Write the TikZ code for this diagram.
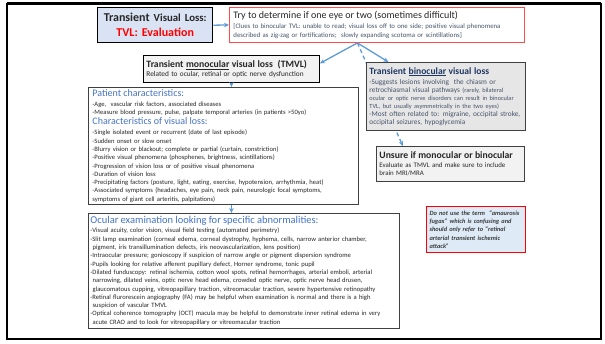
\documentclass[tikz,border=0pt]{standalone}
\usepackage{fontspec}
\setmainfont{Carlito}
\usetikzlibrary{arrows.meta, positioning, calc}
\definecolor{arrblue}{HTML}{5B9BD5}
\definecolor{titlefill}{HTML}{DAE3F3}
\definecolor{notefill}{HTML}{DEEBF7}
\definecolor{boxgray}{HTML}{F2F2F2}
\definecolor{binogray}{HTML}{E7E6E6}
\definecolor{headblue}{HTML}{4472C4}
\definecolor{slate}{HTML}{44546A}
\definecolor{navy}{HTML}{1F3864}
\definecolor{alertred}{HTML}{FF0000}
\definecolor{edgered}{HTML}{FF4B4B}
\definecolor{edgegray}{HTML}{404040}
\definecolor{bodytext}{HTML}{262626}
\definecolor{notegray}{HTML}{3A3A3A}

\newcommand{\fsz}[2]{\fontsize{#1}{#2}\selectfont}
\newcommand{\boxhead}[1]{{\fsz{10}{12}\color{headblue}#1}}

\begin{document}
\begin{tikzpicture}[
  x=1pt, y=-1pt,
  >={Stealth[length=5pt, width=4.5pt]},
  panel/.style={
    draw=edgegray, line width=0.9pt, anchor=north west, align=left,
    inner xsep=4pt, inner ysep=1pt, text=bodytext,
    font=\fsz{6.6}{8.3}
  },
  arr/.style={->, line width=1.3pt, arrblue},
]

\useasboundingbox (0,0) rectangle (605,343);

% Slide frame
\draw[line width=1.4pt] (7,4) rectangle (601,339);
\draw[line width=3pt] (7,3) -- (601,3);

% =============================================
% Top row: title and first question
% =============================================
\node[panel, fill=titlefill, draw=black, line width=1.4pt, align=center,
      minimum width=115pt, minimum height=35pt, text width=111pt, inner xsep=2pt,
      font=\fsz{12}{15}] (title) at (97,7)
  {{\bfseries Transient} {\fsz{10.8}{15}\bfseries Visual Loss:}\\
   {\bfseries\color{alertred}TVL: Evaluation}};

\node[panel, draw=edgered, minimum width=295pt, minimum height=35pt,
      text width=287pt, font=\fsz{6.8}{8.3}] (clues) at (229,7)
  {{\fsz{10}{10}Try to determine if one eye or two (sometimes difficult)}\\[1.5pt]
   {\color{slate}[Clues to binocular TVL: unable to read; visual loss\ off to one side;\ positive visual phenomena}\\
   {\color{slate}described as zig-zag or fortifications;\ \ slowly expanding scotoma or scintillations]}};

\draw[arr] (title.east) -- (clues.west);

\coordinate (split) at ($(clues.south west)!0.434!(clues.south east)$);

% =============================================
% Monocular / unsure branches
% =============================================
\node[panel, fill=boxgray, draw=black, minimum width=176pt, minimum height=27pt,
      text width=170pt, inner xsep=3pt, font=\fsz{7.3}{8.5}] (tmvl) at (143,55)
  {{\fsz{9.7}{10}\bfseries Transient \underline{monocular} visual loss\ \ (TMVL)}\\[0.5pt]
   Related to ocular, retinal or optic nerve dysfunction};

\node[panel, fill=boxgray, draw=edgegray, minimum width=148pt, minimum height=35pt,
      text width=142pt, inner xsep=3pt, font=\fsz{6.9}{8.3}] (unsure) at (376,146)
  {{\fsz{9.7}{10}\bfseries Unsure if monocular or binocular}\\[0.5pt]
   Evaluate as TMVL and make sure to include\\
   brain MRI/MRA};

\draw[arr] (split) -- ($(tmvl.north east)!0.3!(tmvl.south east)$);
\draw[arr, dashed, dash pattern=on 4pt off 3pt]
  (split) -- ($(unsure.north west)!0.18!(unsure.north east)$);

% =============================================
% Binocular branch (covers the dashed line)
% =============================================
\node[panel, fill=binogray, draw=edgegray, minimum width=159pt, minimum height=68pt,
      text width=153pt, inner xsep=3pt, text=slate, font=\fsz{7.3}{8}] (bino) at (366,62)
  {{\fsz{9.6}{10}\bfseries\color{navy}Transient \underline{binocular} visual loss}\\[2pt]
   -Suggests lesions involving\ \ the chiasm or\\
   retrochiasmal visual pathways {\fsz{6.3}{7}(rarely, bilateral}\\
   {\fsz{6.3}{7}ocular or optic nerve disorders can result in binocular}\\
   {\fsz{6.3}{7}TVL, but usually asymmetrically in the two eyes)}\\
   -Most often related to: migraine, occipital stroke,\\
   occipital seizures, hypoglycemia};

\draw[arr] (split) -- ($(bino.north west)!0.14!(bino.north east)$);

% =============================================
% History and examination
% =============================================
\node[panel, minimum width=270pt, minimum height=117pt, text width=262pt] (patient) at (88,87)
  {\boxhead{Patient characteristics:}\\[1.7pt]
   -Age,\ \ vascular risk factors, associated diseases\\
   -Measure blood pressure, pulse, palpate temporal arteries (in patients >50yo)\\[1.7pt]
   \boxhead{Characteristics of visual loss:}\\[1.7pt]
   -Single isolated event or recurrent (date of last episode)\\
   -Sudden onset or slow onset\\
   -Blurry vision or blackout; complete or partial (curtain, constriction)\\
   -Positive visual phenomena (phosphenes, brightness, scintillations)\\
   -Progression of vision loss or of positive visual phenomena\\
   -Duration of vision loss\\
   -Precipitating factors (posture, light, eating, exercise, hypotension, arrhythmia, heat)\\
   -Associated symptoms (headaches, eye pain, neck pain, neurologic focal symptoms,\\
   symptoms of giant cell arteritis, palpitations)};

\draw[arr] (tmvl.south) -- (tmvl.south |- patient.north);

\node[panel, minimum width=311pt, minimum height=115pt, text width=307pt,
      inner xsep=2pt] (ocular) at (88,213)
  {{\fsz{10.5}{11}\color{headblue}Ocular examination looking for specific abnormalities:}\\[0.7pt]
   -Visual acuity, color vision, visual field testing (automated perimetry)\\
   -Slit lamp examination (corneal edema, corneal dystrophy, hyphema, cells, narrow anterior chamber,\\
   \ pigment, iris transillumination defects, iris neovascularization, lens position)\\
   -Intraocular pressure; gonioscopy if suspicion of narrow angle or pigment dispersion syndrome\\
   -Pupils looking for relative afferent pupillary defect, Horner syndrome, tonic pupil\\
   -Dilated funduscopy: retinal ischemia, cotton wool spots, retinal hemorrhages, arterial emboli, arterial\\
   \ narrowing, dilated veins, optic nerve head edema,\ crowded optic nerve, optic nerve head drusen,\\
   \ glaucomatous cupping, vitreopapillary traction, vitreomacular traction, severe hypertensive retinopathy\\
   -Retinal flurorescein angiography (FA) may be helpful when examination is normal and there is a high\\
   \ suspicion of vascular TMVL\\
   -Optical coherence tomography (OCT) macula may be helpful to demonstrate inner retinal edema in very\\
   \ acute CRAO and to look for vitreopapillary or vitreomacular traction};

\draw[arr] (tmvl.south |- patient.south) -- (tmvl.south |- ocular.north);

% Side remark
\node[panel, fill=notefill, draw=alertred, line width=1.1pt, minimum width=99pt,
      minimum height=46pt, text width=93pt, inner xsep=3pt, text=notegray,
      font=\fsz{6.4}{8.3}\bfseries\itshape] (note) at (426,206)
  {Do not use the term\ \ “amaurosis\\
   fugax” which is confusing and\\
   should only refer to “retinal\\
   arterial transient ischemic\\
   attack”};

\end{tikzpicture}
\end{document}
